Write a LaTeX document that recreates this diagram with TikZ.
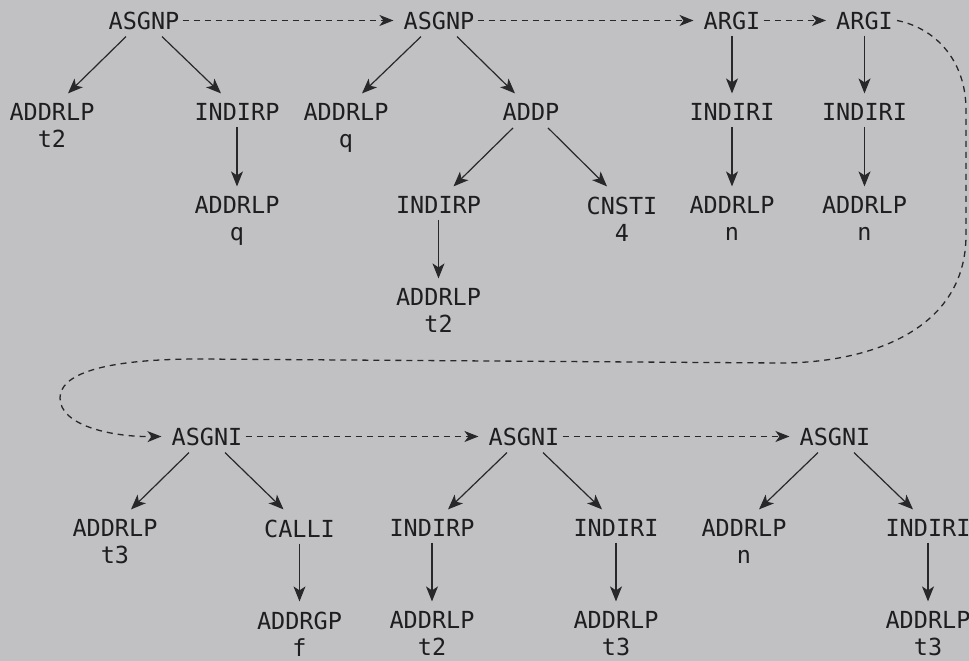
\documentclass[tikz,border=0pt]{standalone}
\usepackage{fontspec}
\newfontfamily\codefont{DejaVu Sans Mono}
\usetikzlibrary{arrows.meta}
\definecolor{bg}{RGB}{193,193,195}
\definecolor{ink}{RGB}{30,30,32}
\definecolor{linec}{RGB}{40,40,43}
\begin{document}
\begin{tikzpicture}[x=1pt,y=-1pt,
  op/.style={anchor=north, inner sep=0pt, align=center, text=ink,
    font=\codefont\fontsize{23.5}{27}\selectfont},
  tree/.style={draw=linec, line width=1.2pt, -{Stealth[length=15pt,width=12pt,inset=4pt]}},
  seq/.style={draw=linec, line width=1.3pt, dash pattern=on 6pt off 5pt,
    -{Stealth[length=14pt,width=11pt,inset=4pt]}}]
\fill[bg] (0,0) rectangle (969,661);
\useasboundingbox (0,0) rectangle (969,661);

% ---- top row trees
\node[op] (a1)    at (144,11.4)  {ASGNP};
\node[op] (a1l)   at (52,103.4)  {ADDRLP\\t2};
\node[op] (a1r)   at (237,103.4) {INDIRP};
\node[op] (a1rr)  at (237,196.4) {ADDRLP\\q};

\node[op] (a2)    at (439,11.4)  {ASGNP};
\node[op] (a2l)   at (346,103.4) {ADDRLP\\q};
\node[op] (a2r)   at (531,103.4) {ADDP};
\node[op] (a2rl)  at (438.5,196.4) {INDIRP};
\node[op] (a2rr)  at (622,196.4) {CNSTI\\4};
\node[op] (a2rll) at (438.5,288.4) {ADDRLP\\t2};

\node[op] (g1)    at (732,11.4)  {ARGI};
\node[op] (g1c)   at (732,103.4) {INDIRI};
\node[op] (g1cc)  at (732,196.4) {ADDRLP\\n};

\node[op] (g2)    at (864.5,11.4)  {ARGI};
\node[op] (g2c)   at (864.5,103.4) {INDIRI};
\node[op] (g2cc)  at (864.5,196.4) {ADDRLP\\n};

% ---- bottom row trees
\node[op] (s1)    at (207,427.4) {ASGNI};
\node[op] (s1l)   at (115,519.4) {ADDRLP\\t3};
\node[op] (s1r)   at (299.5,519.4) {CALLI};
\node[op] (s1rr)  at (299.5,611.4) {ADDRGP\\f};

\node[op] (s2)    at (524,427.4) {ASGNI};
\node[op] (s2l)   at (432,519.4) {INDIRP};
\node[op] (s2ll)  at (432,611.4) {ADDRLP\\t2};
\node[op] (s2r)   at (616,519.4) {INDIRI};
\node[op] (s2rr)  at (616,611.4) {ADDRLP\\t3};

\node[op] (s3)    at (835,427.4) {ASGNI};
\node[op] (s3l)   at (744,519.4) {ADDRLP\\n};
\node[op] (s3r)   at (928,519.4) {INDIRI};
\node[op] (s3rr)  at (928,611.4) {ADDRLP\\t3};

% ---- tree edges
\draw[tree] ([xshift=-18pt,yshift=-7pt]a1.south) -- ([xshift=16pt,yshift=10pt]a1l.north);
\draw[tree] ([xshift=18pt,yshift=-7pt]a1.south) -- ([xshift=-16pt,yshift=10pt]a1r.north);
\draw[tree] ([yshift=-6pt]a1r.south) -- ([yshift=10pt]a1rr.north);

\draw[tree] ([xshift=-18pt,yshift=-7pt]a2.south) -- ([xshift=16pt,yshift=10pt]a2l.north);
\draw[tree] ([xshift=18pt,yshift=-7pt]a2.south) -- ([xshift=-16pt,yshift=10pt]a2r.north);
\draw[tree] ([xshift=-18pt,yshift=-7pt]a2r.south) -- ([xshift=15pt,yshift=10pt]a2rl.north);
\draw[tree] ([xshift=17pt,yshift=-7pt]a2r.south) -- ([xshift=-15pt,yshift=10pt]a2rr.north);
\draw[tree] ([yshift=-6pt]a2rl.south) -- ([yshift=10pt]a2rll.north);

\draw[tree] ([yshift=-6pt]g1.south) -- ([yshift=10pt]g1c.north);
\draw[tree] ([yshift=-6pt]g1c.south) -- ([yshift=10pt]g1cc.north);
\draw[tree] ([yshift=-6pt]g2.south) -- ([yshift=10pt]g2c.north);
\draw[tree] ([yshift=-6pt]g2c.south) -- ([yshift=10pt]g2cc.north);

\draw[tree] ([xshift=-18pt,yshift=-7pt]s1.south) -- ([xshift=16pt,yshift=10pt]s1l.north);
\draw[tree] ([xshift=18pt,yshift=-7pt]s1.south) -- ([xshift=-16pt,yshift=10pt]s1r.north);
\draw[tree] ([yshift=-6pt]s1r.south) -- ([yshift=10pt]s1rr.north);

\draw[tree] ([xshift=-17pt,yshift=-7pt]s2.south) -- ([xshift=16pt,yshift=10pt]s2l.north);
\draw[tree] ([xshift=19pt,yshift=-7pt]s2.south) -- ([xshift=-14pt,yshift=10pt]s2r.north);
\draw[tree] ([yshift=-6pt]s2l.south) -- ([yshift=10pt]s2ll.north);
\draw[tree] ([yshift=-6pt]s2r.south) -- ([yshift=10pt]s2rr.north);

\draw[tree] ([xshift=-17pt,yshift=-7pt]s3.south) -- ([xshift=15pt,yshift=10pt]s3l.north);
\draw[tree] ([xshift=19pt,yshift=-7pt]s3.south) -- ([xshift=-15pt,yshift=10pt]s3r.north);
\draw[tree] ([yshift=-6pt]s3r.south) -- ([yshift=10pt]s3rr.north);

% ---- sequence (dashed) links
\draw[seq] ([xshift=3pt]a1.east) -- ([xshift=-10pt]a2.west);
\draw[seq] ([xshift=3pt]a2.east) -- ([xshift=-10pt]g1.west);
\draw[seq] ([xshift=3pt]g1.east) -- ([xshift=-10pt]g2.west);
\draw[seq] ([xshift=4pt]g2.east) .. controls (935,28) and (966,60) .. (966,110)
  -- (966,235) .. controls (966,330) and (870,363) .. (780,363)
  -- (200,359) .. controls (100,359) and (60,375) .. (60,398)
  .. controls (60,425) and (110,437) .. ([xshift=-10pt]s1.west);
\draw[seq] ([xshift=3pt]s1.east) -- ([xshift=-10pt]s2.west);
\draw[seq] ([xshift=3pt]s2.east) -- ([xshift=-10pt]s3.west);
\end{tikzpicture}
\end{document}
